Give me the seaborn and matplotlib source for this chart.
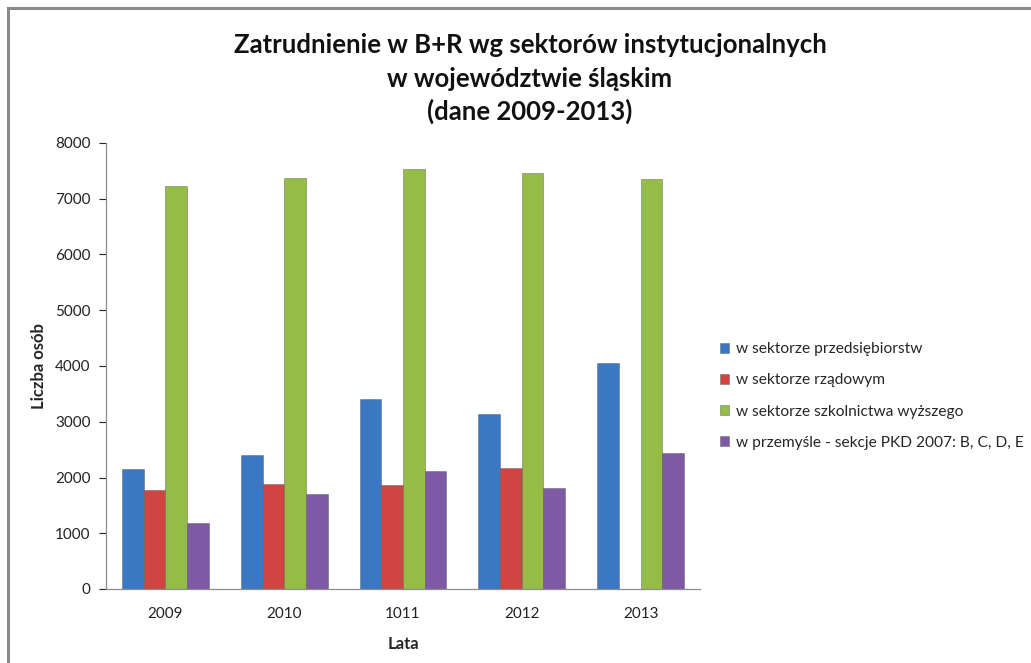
import numpy as np
import pandas as pd
import matplotlib
matplotlib.use("Agg")
import matplotlib.pyplot as plt
import seaborn as sns
from matplotlib.patches import Rectangle

years = ["2009", "2010", "1011", "2012", "2013"]
series = ["w sektorze przedsiębiorstw", "w sektorze rządowym",
          "w sektorze szkolnictwa wyższego", "w przemyśle - sekcje PKD 2007: B, C, D, E"]
przedsiebiorstw = [2150, 2410, 3415, 3145, 4050]
rzadowy = [1775, 1880, 1860, 2165, np.nan]
szkolnictwo = [7225, 7365, 7530, 7470, 7350]
przemysl = [1190, 1705, 2110, 1805, 2440]
colors = ["#3a78c3", "#d04441", "#94bc46", "#7e5aa5"]

sns.set_theme(style="white")
plt.rcParams['font.family'] = ['Lato', 'DejaVu Sans']

rows = []
for s, vals in zip(series, [przedsiebiorstw, rzadowy, szkolnictwo, przemysl]):
    for y, v in zip(years, vals):
        rows.append({"Lata": y, "Seria": s, "Wartość": v})
df = pd.DataFrame(rows)

fig = plt.figure(figsize=(10.31, 6.63), dpi=100)
ax = fig.add_axes([106/1031, (663-589)/663, (700-106)/1031, (589-143)/663])
sns.barplot(data=df, x="Lata", y="Wartość", hue="Seria", order=years, hue_order=series,
            palette=colors, width=0.73, gap=0, ax=ax, saturation=1, legend=True,
            edgecolor="#55555580", linewidth=0.6)

ax.set_xlim(-0.5, 4.5)
ax.set_ylim(0, 8000)
ax.set_yticks(range(0, 8001, 1000))
ax.tick_params(axis='y', labelsize=11, colors="#222222", length=5, width=0.8, direction='out', left=True, pad=6)
ax.tick_params(axis='x', labelsize=11, colors="#222222", length=0, pad=13)
for sp in ["top", "right"]:
    ax.spines[sp].set_visible(False)
for sp in ["left", "bottom"]:
    ax.spines[sp].set_color("#8c8c8c")
    ax.spines[sp].set_linewidth(0.9)
ax.set_ylabel("Liczba osób", fontsize=12, fontweight="bold", labelpad=6)
ax.set_xlabel("Lata", fontsize=12, fontweight="bold", labelpad=11)

leg = ax.legend(loc="center left", bbox_to_anchor=(706/1031, (663-396)/663),
                bbox_transform=fig.transFigure, frameon=False, fontsize=11.2,
                handlelength=0.6, handleheight=0.6, handletextpad=0.4, labelspacing=1.1)

cx = 0.5 * (235 + 825) / 1031
for txt, ypix in [("Zatrudnienie w B+R wg sektorów instytucjonalnych", 45),
                  ("w województwie śląskim", 79),
                  ("(dane 2009-2013)", 111)]:
    fig.text(cx, (663 - ypix) / 663, txt, ha="center", va="center",
             fontsize=18.5, fontweight="bold", color="#111111")

fig.patches.append(Rectangle((8/1031, -0.05), 1.2, (663-8)/663 + 0.05, transform=fig.transFigure,
                             fill=False, edgecolor="#8a8a8a", linewidth=2.2))

fig.savefig("out.png", dpi=100, facecolor="white")
